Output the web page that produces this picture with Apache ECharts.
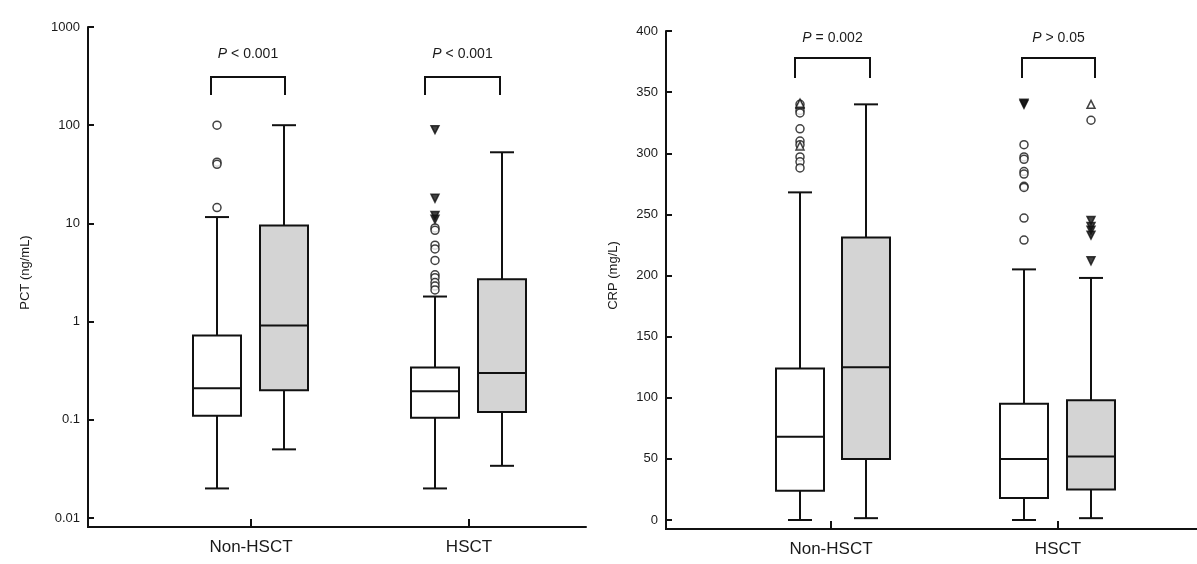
<!DOCTYPE html>
<html>
<head>
<meta charset="utf-8">
<script src="https://cdn.jsdelivr.net/npm/echarts@6/dist/echarts.min.js"></script>
<style>html,body{margin:0;padding:0;background:#fff}#c{width:1197px;height:564px}</style>
</head>
<body>
<div id="c"></div>
<script>
// data: [min, q1, median, q3, max]
var groups = ['Non-HSCT', 'HSCT'];
var pctBoxes = [
  [0.02, 0.11, 0.21, 0.72, 11.6],
  [0.05, 0.2, 0.91, 9.5, 100],
  [0.02, 0.105, 0.195, 0.34, 1.8],
  [0.034, 0.12, 0.3, 2.7, 53]
];
var crpBoxes = [
  [0, 24, 68, 124, 268],
  [1.5, 50, 125, 231, 340],
  [0, 18, 50, 95, 205],
  [1.5, 25, 52, 98, 198]
];
var pctOutCircle = [[0, 100], [0, 42], [0, 40], [0, 14.5], [2, 9], [2, 8.5], [2, 6], [2, 5.5], [2, 4.2], [2, 3], [2, 2.8], [2, 2.5], [2, 2.3], [2, 2.1]];
var pctOutTri = [[2, 90], [2, 18], [2, 12], [2, 11]];
var crpOutCircle = [[0, 340], [0, 335], [0, 333], [0, 320], [0, 310], [0, 307], [0, 297], [0, 293], [0, 288],
  [2, 307], [2, 297], [2, 295], [2, 285], [2, 283], [2, 273], [2, 272], [2, 247], [2, 229], [3, 327]];
var crpOutTriOpen = [[0, 340], [0, 341], [0, 306], [3, 340]];
var crpOutTriFill = [[2, 341], [2, 340], [3, 245], [3, 240], [3, 237], [3, 233], [3, 212]];
var pText = ['< 0.001', '< 0.001', '= 0.002', '> 0.05'];

// layout (pixel offsets within each grid)
var pctX = [129, 196, 347, 414], pctTicks = [163, 381];
var crpX = [134, 200, 358, 425], crpTicks = [165, 392];
var txt = '#1a1a1a', font = 'Liberation Sans';

function boxRender(params, api) {
  var x = api.value(0);
  var pMin = api.coord([x, api.value(1)]), pQ1 = api.coord([x, api.value(2)]),
      pMed = api.coord([x, api.value(3)]), pQ3 = api.coord([x, api.value(4)]),
      pMax = api.coord([x, api.value(5)]);
  var w = 48, cx = pMin[0], ls = {stroke: '#111', lineWidth: 2};
  var fill = api.value(6) ? '#d4d4d4' : '#fff';
  return {type: 'group', children: [
    {type: 'line', shape: {x1: cx, y1: pMin[1], x2: cx, y2: pQ1[1]}, style: ls},
    {type: 'line', shape: {x1: cx, y1: pQ3[1], x2: cx, y2: pMax[1]}, style: ls},
    {type: 'line', shape: {x1: cx - 12, y1: pMin[1], x2: cx + 12, y2: pMin[1]}, style: ls},
    {type: 'line', shape: {x1: cx - 12, y1: pMax[1], x2: cx + 12, y2: pMax[1]}, style: ls},
    {type: 'rect', shape: {x: cx - w / 2, y: pQ3[1], width: w, height: pQ1[1] - pQ3[1]}, style: {fill: fill, stroke: '#111', lineWidth: 2}},
    {type: 'line', shape: {x1: cx - w / 2, y1: pMed[1], x2: cx + w / 2, y2: pMed[1]}, style: ls}
  ]};
}
function boxData(boxes, xs) {
  return boxes.map(function (b, i) { return [xs[i]].concat(b).concat([i % 2]); });
}
function outData(list, xs) {
  return list.map(function (d) { return [xs[d[0]], d[1]]; });
}
function xAxisOf(idx, max, ticks) {
  return {
    gridIndex: idx, type: 'value', min: 0, max: max, offset: 9,
    splitLine: {show: false},
    axisLine: {onZero: false, lineStyle: {color: '#111', width: 2}},
    axisTick: {inside: true, length: 8, customValues: ticks, lineStyle: {color: '#111', width: 2}},
    axisLabel: {customValues: ticks, color: txt, fontSize: 17, fontFamily: font, margin: 12,
      formatter: function (v) { return groups[ticks.indexOf(v)]; }}
  };
}
var yCommon = {
  axisLine: {show: true, lineStyle: {color: '#111', width: 2}},
  axisTick: {inside: true, length: 6, lineStyle: {color: '#111', width: 2}},
  splitLine: {show: false},
  axisLabel: {color: txt, fontSize: 13, fontFamily: font, margin: 8},
  nameLocation: 'middle', nameTextStyle: {color: txt, fontSize: 13, fontFamily: font}
};
function scat(xi, yi, data, sym, rot, filled) {
  return {type: 'scatter', xAxisIndex: xi, yAxisIndex: yi, data: data, symbol: sym, symbolSize: 8,
    symbolRotate: rot, itemStyle: {color: filled ? '#111' : '#fff', borderColor: '#111', borderWidth: 1.5}, z: 5};
}
function bracket(x1, x2, yTop, yLeg, ty, label) {
  return [
    {type: 'polyline', shape: {points: [[x1, yLeg], [x1, yTop], [x2, yTop], [x2, yLeg]]}, style: {stroke: '#111', lineWidth: 2, fill: null}},
    {type: 'text', x: (x1 + x2) / 2, y: ty, style: {text: '{i|P} ' + label, align: 'center', verticalAlign: 'middle',
      fill: txt, fontSize: 14, fontFamily: font, rich: {i: {fontStyle: 'italic', fontSize: 14, fontFamily: font}}}}
  ];
}

var chart = echarts.init(document.getElementById('c'));
chart.setOption({
  animation: false,
  grid: [
    {left: 88, top: 27, width: 498, bottom: 46},
    {left: 666, top: 31, width: 531, bottom: 44}
  ],
  xAxis: [xAxisOf(0, 498, pctTicks), xAxisOf(1, 531, crpTicks)],
  yAxis: [
    Object.assign({}, yCommon, {gridIndex: 0, type: 'log', logBase: 10, min: 0.01, max: 1000,
      name: 'PCT (ng/mL)', nameGap: 56,
      axisLabel: Object.assign({}, yCommon.axisLabel, {formatter: function (v) { return String(+v.toPrecision(3)); }})}),
    Object.assign({}, yCommon, {gridIndex: 1, type: 'value', min: 0, max: 400, interval: 50,
      name: 'CRP (mg/L)', nameGap: 46})
  ],
  series: [
    {type: 'custom', xAxisIndex: 0, yAxisIndex: 0, renderItem: boxRender, data: boxData(pctBoxes, pctX)},
    {type: 'custom', xAxisIndex: 1, yAxisIndex: 1, renderItem: boxRender, data: boxData(crpBoxes, crpX)},
    scat(0, 0, outData(pctOutCircle, pctX), 'circle', 0, false),
    scat(0, 0, outData(pctOutTri, pctX), 'triangle', 180, true),
    scat(1, 1, outData(crpOutCircle, crpX), 'circle', 0, false),
    scat(1, 1, outData(crpOutTriOpen, crpX), 'triangle', 0, false),
    scat(1, 1, outData(crpOutTriFill, crpX), 'triangle', 180, true)
  ],
  graphic: [].concat(
    bracket(211, 285, 77, 95, 54, pText[0]),
    bracket(425, 500, 77, 95, 54, pText[1]),
    bracket(795, 870, 58, 78, 38, pText[2]),
    bracket(1022, 1095, 58, 78, 38, pText[3]),
    [{type: 'line', shape: {x1: 88, y1: 517, x2: 88, y2: 528}, style: {stroke: '#111', lineWidth: 2}},
     {type: 'line', shape: {x1: 666, y1: 519, x2: 666, y2: 530}, style: {stroke: '#111', lineWidth: 2}}]
  )
});
</script>
</body>
</html>
